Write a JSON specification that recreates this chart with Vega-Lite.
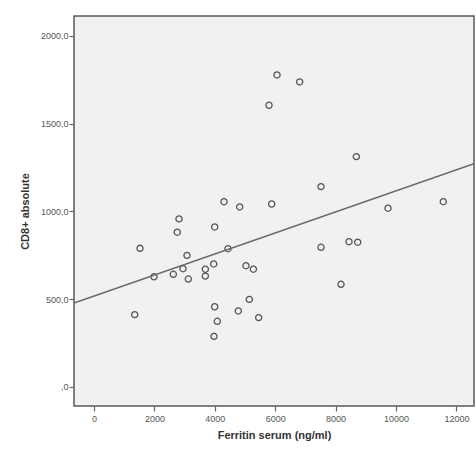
{
  "$schema": "https://vega.github.io/schema/vega-lite/v6.json",
  "autosize": {"type": "none"},
  "padding": {"left": 74, "top": 16, "right": 2, "bottom": 47},
  "width": 400,
  "height": 390,
  "background": "white",
  "config": {
    "view": {"fill": "#f1f1f1", "stroke": "#5a5a5a", "strokeWidth": 1.5},
    "axis": {
      "grid": false,
      "domain": false,
      "tickColor": "#666",
      "tickSize": 5,
      "tickWidth": 1.2,
      "labelColor": "#555",
      "labelFont": "Liberation Sans",
      "labelFontSize": 9,
      "titleFont": "Liberation Sans",
      "titleFontSize": 11,
      "titleFontWeight": "bold",
      "titleColor": "#333"
    }
  },
  "data": {
    "values": [
      {"ferritin": 1348, "cd8": 411},
      {"ferritin": 1523, "cd8": 789},
      {"ferritin": 1987, "cd8": 627},
      {"ferritin": 2627, "cd8": 641},
      {"ferritin": 2758, "cd8": 881},
      {"ferritin": 2815, "cd8": 957},
      {"ferritin": 2947, "cd8": 673},
      {"ferritin": 3079, "cd8": 749},
      {"ferritin": 3124, "cd8": 614},
      {"ferritin": 3687, "cd8": 670},
      {"ferritin": 3687, "cd8": 631},
      {"ferritin": 3963, "cd8": 700},
      {"ferritin": 3996, "cd8": 911},
      {"ferritin": 3996, "cd8": 456},
      {"ferritin": 4083, "cd8": 373},
      {"ferritin": 3974, "cd8": 287},
      {"ferritin": 4305, "cd8": 1055},
      {"ferritin": 4437, "cd8": 787},
      {"ferritin": 4779, "cd8": 432},
      {"ferritin": 4824, "cd8": 1025},
      {"ferritin": 5033, "cd8": 690},
      {"ferritin": 5143, "cd8": 498},
      {"ferritin": 5278, "cd8": 670},
      {"ferritin": 5453, "cd8": 394},
      {"ferritin": 5795, "cd8": 1605},
      {"ferritin": 5883, "cd8": 1042},
      {"ferritin": 6060, "cd8": 1778},
      {"ferritin": 6810, "cd8": 1738},
      {"ferritin": 7517, "cd8": 1141},
      {"ferritin": 7517, "cd8": 795},
      {"ferritin": 8179, "cd8": 584},
      {"ferritin": 8444, "cd8": 827},
      {"ferritin": 8687, "cd8": 1312},
      {"ferritin": 8732, "cd8": 824},
      {"ferritin": 9735, "cd8": 1018},
      {"ferritin": 11567, "cd8": 1055}
    ]
  },
  "encoding": {
    "x": {
      "field": "ferritin",
      "type": "quantitative",
      "scale": {"domain": [-662, 12583], "nice": false, "zero": false},
      "axis": {"values": [0, 2000, 4000, 6000, 8000, 10000, 12000], "format": "d", "title": "Ferritin serum (ng/ml)", "labelPadding": 3, "titlePadding": 6}
    },
    "y": {
      "field": "cd8",
      "type": "quantitative",
      "scale": {"domain": [-110, 2114], "nice": false, "zero": false},
      "axis": {"values": [0, 500, 1000, 1500, 2000], "labelExpr": "datum.value == 0 ? ',0' : datum.value + ',0'", "title": "CD8+ absolute", "labelPadding": 1, "titlePadding": 10}
    }
  },
  "layer": [
    {
      "mark": {"type": "point", "shape": "circle", "filled": false, "size": 38, "stroke": "#555", "strokeWidth": 1.3, "opacity": 1}
    },
    {
      "transform": [{"regression": "cd8", "on": "ferritin", "extent": [-662, 12583]}],
      "mark": {"type": "line", "color": "#666", "strokeWidth": 1.5, "clip": true}
    }
  ]
}
